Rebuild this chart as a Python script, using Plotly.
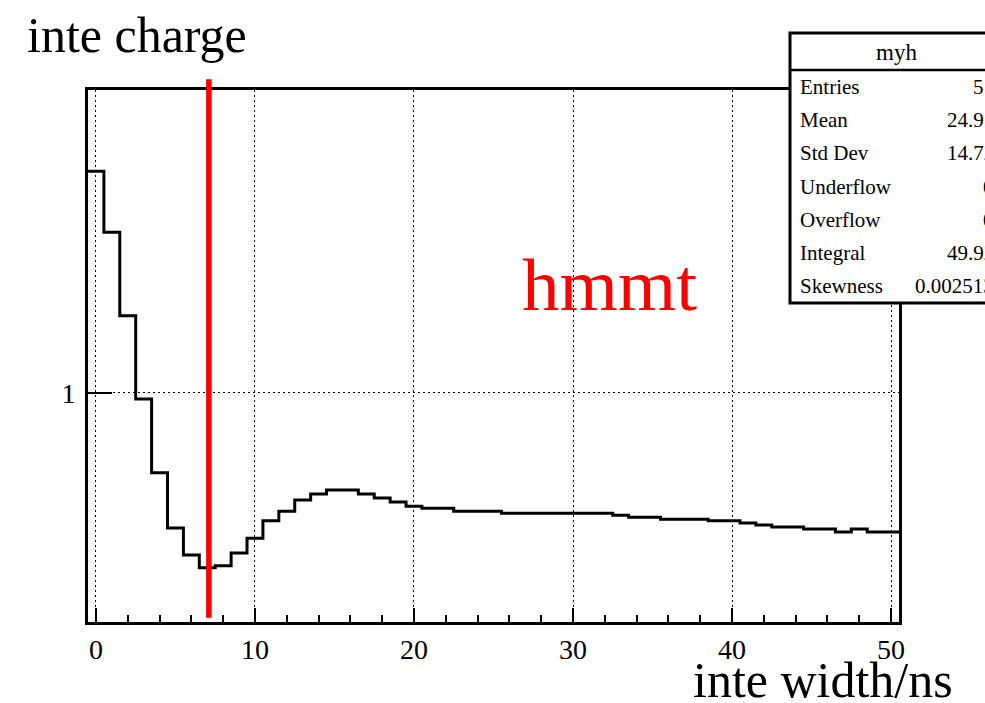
import plotly.graph_objects as go

# ---- data ----
bin_centers = list(range(51))
bin_contents = [
    1.0458, 1.0330, 1.0157, 0.9988, 0.9840, 0.9731, 0.9678, 0.9653, 0.9657, 0.9682,
    0.9711, 0.9745, 0.9764, 0.9786, 0.9798, 0.9806, 0.9806, 0.9798, 0.9790, 0.9782,
    0.9774, 0.9770, 0.9770, 0.9764, 0.9764, 0.9764, 0.9760, 0.9760, 0.9760, 0.9760,
    0.9760, 0.9760, 0.9760, 0.9756, 0.9752, 0.9752, 0.9748, 0.9748, 0.9748, 0.9745,
    0.9745, 0.9741, 0.9737, 0.9733, 0.9733, 0.9729, 0.9729, 0.9723, 0.9729, 0.9723,
    0.9723,
]
bin_width = 1.0
cut_value = 7.1
x_tick_vals = [0, 10, 20, 30, 40, 50]
x_tick_text = ["0", "10", "20", "30", "40", "50"]
y_tick_vals = [1]
y_tick_text = ["1"]
stat_names = ["Entries", "Mean", "Std Dev", "Underflow", "Overflow", "Integral", "Skewness"]
stat_values = ["51", "24.91", "14.72", "0", "0", "49.92", "0.002513"]
hist_name = "myh"
label_text = "hmmt"
y_title = "inte charge"
x_title = "inte width/ns"

W, H = 985, 703
L, R, T, B = 88, 86, 90, 81
pw, ph = W - L - R, H - T - B

def px(xp):
    return (xp - L) / pw

def py(yp):
    return (H - B - yp) / ph

serif = "Liberation Serif, Times New Roman, serif"

# step outline built from bin edges
edges = [c - bin_width / 2 for c in bin_centers] + [bin_centers[-1] + bin_width / 2]
ys = bin_contents + [bin_contents[-1]]

fig = go.Figure()
fig.add_trace(go.Scatter(
    x=edges, y=ys, mode="lines", line=dict(color="black", width=3, shape="hv"),
    hoverinfo="skip", showlegend=False,
))

shapes = [
    dict(type="line", xref="x", yref="paper", x0=cut_value, x1=cut_value,
         y0=0.008, y1=1.02, line=dict(color="red", width=5.5), layer="above"),
    # stats box
    dict(type="rect", xref="paper", yref="paper", x0=px(790), x1=px(1006),
         y0=py(303), y1=py(33), fillcolor="white", line=dict(color="black", width=3),
         layer="above"),
    dict(type="line", xref="paper", yref="paper", x0=px(790), x1=px(1006),
         y0=py(70), y1=py(70), line=dict(color="black", width=2.5), layer="above"),
]

ann = [
    dict(text=y_title, xref="paper", yref="paper", x=px(25), y=py(35), xanchor="left",
         yanchor="middle", showarrow=False, font=dict(family=serif, size=50, color="black")),
    dict(text=x_title, xref="paper", yref="paper", x=px(691), y=py(680), xanchor="left",
         yanchor="middle", showarrow=False, font=dict(family=serif, size=50, color="black")),
    dict(text=label_text, xref="paper", yref="paper", x=px(520), y=py(284), xanchor="left",
         yanchor="middle", showarrow=False, font=dict(family=serif, size=75, color="red")),
    dict(text=hist_name, xref="paper", yref="paper", x=px(896), y=py(52), xanchor="center",
         yanchor="middle", showarrow=False, font=dict(family=serif, size=23, color="black")),
]
for i, (n, v) in enumerate(zip(stat_names, stat_values)):
    yy = 87 + 33.2 * i
    ann.append(dict(text=n, xref="paper", yref="paper", x=px(798), y=py(yy), xanchor="left",
                    yanchor="middle", showarrow=False,
                    font=dict(family=serif, size=21, color="black")))
    ann.append(dict(text=v, xref="paper", yref="paper", x=px(996), y=py(yy), xanchor="right",
                    yanchor="middle", showarrow=False,
                    font=dict(family=serif, size=21, color="black")))

fig.update_layout(
    width=W, height=H, margin=dict(l=L, r=R, t=T, b=B),
    paper_bgcolor="white", plot_bgcolor="white",
    shapes=shapes, annotations=ann, showlegend=False,
    font=dict(family=serif, color="black"),
)
fig.update_xaxes(
    range=[-0.5, 50.5], tickvals=x_tick_vals, ticktext=x_tick_text,
    ticks="inside", ticklen=14, tickwidth=2, tickcolor="black",
    minor=dict(dtick=2, tick0=0, ticks="inside", ticklen=7, tickwidth=2, tickcolor="black", showgrid=False),
    showline=True, linecolor="black", linewidth=3, mirror=True,
    showgrid=True, gridcolor="black", gridwidth=1.2, griddash="2px,3px",
    zeroline=False, tickfont=dict(family=serif, size=28, color="black"),
    ticklabelstandoff=0,
)
fig.update_yaxes(
    type="log", range=[-0.02009, 0.02658], tickvals=y_tick_vals, ticktext=y_tick_text,
    ticks="inside", ticklen=24, tickwidth=2, tickcolor="black",
    showline=True, linecolor="black", linewidth=3, mirror=True,
    showgrid=True, gridcolor="black", gridwidth=1.2, griddash="2px,3px",
    zeroline=False, tickfont=dict(family=serif, size=28, color="black"),
    ticklabelstandoff=4,
)

fig.write_html("out.html")
